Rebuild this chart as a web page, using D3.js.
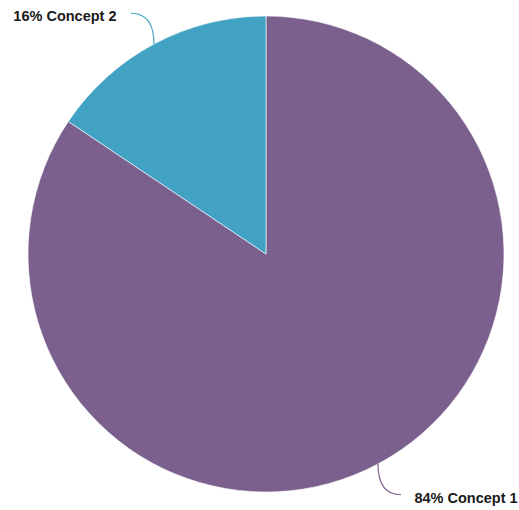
<!DOCTYPE html>
<html lang="en">
    <head>
        <meta charset="utf-8">
        <title>Concept Share</title>
        <script src="https://d3js.org/d3.v7.min.js"></script>
        <style type="text/css">
            body {
                margin: 0;
                background: white;
            }
            .label {
                font-family: "Liberation Sans", Arial, sans-serif;
                font-size: 14.5px;
                font-weight: bold;
                fill: #1a1a1a;
            }
            .leader {
                fill: none;
                stroke-width: 1.2px;
            }
        </style>
    </head>
    <body>
        <script type="text/javascript">

            const categories = ["Concept 1", "Concept 2"];
            const values = [84.4, 15.6];
            const colors = ["#7b608d", "#41a2c3"];

            const w = 519;
            const h = 510;
            const cx = 266;
            const cy = 254;
            const radius = 238;
            const labelRadius = 276;

            const data = categories.map((c, i) => ({name: c, value: values[i], color: colors[i]}));

            const svg = d3.select("body")
                .append("svg")
                .attr("width", w)
                .attr("height", h);

            const pie = d3.pie()
                .value(d => d.value)
                .sort(null);

            const arc = d3.arc()
                .innerRadius(0)
                .outerRadius(radius);

            const arcs = pie(data);
            const total = d3.sum(values);

            const g = svg.append("g")
                .attr("transform", "translate(" + cx + "," + cy + ")");

            g.selectAll("path.slice")
                .data(arcs)
                .join("path")
                .attr("class", "slice")
                .attr("d", arc)
                .attr("fill", d => d.data.color)
                .attr("stroke", "white")
                .attr("stroke-width", 0.6);

            // leader lines and labels
            function polar(r, a) {
                return [r * Math.sin(a), -r * Math.cos(a)];
            }

            arcs.forEach(d => {
                const mid = (d.startAngle + d.endAngle) / 2;
                const p0 = polar(radius, mid);
                const p2 = polar(labelRadius, mid - 0.021);
                const ctrl = [p0[0], p2[1]];
                const right = Math.sin(mid) > 0;

                g.append("path")
                    .attr("class", "leader")
                    .attr("stroke", d.data.color)
                    .attr("d", "M" + p2[0] + "," + p2[1] + " Q" + ctrl[0] + "," + ctrl[1] + " " + p0[0] + "," + p0[1]);

                g.append("text")
                    .attr("class", "label")
                    .attr("x", p2[0] + (right ? 13.5 : -14.5))
                    .attr("y", p2[1] + 4)
                    .attr("dominant-baseline", "middle")
                    .attr("text-anchor", right ? "start" : "end")
                    .text(Math.round(d.data.value / total * 100) + "% " + d.data.name);
            });

        </script>
    </body>
</html>
